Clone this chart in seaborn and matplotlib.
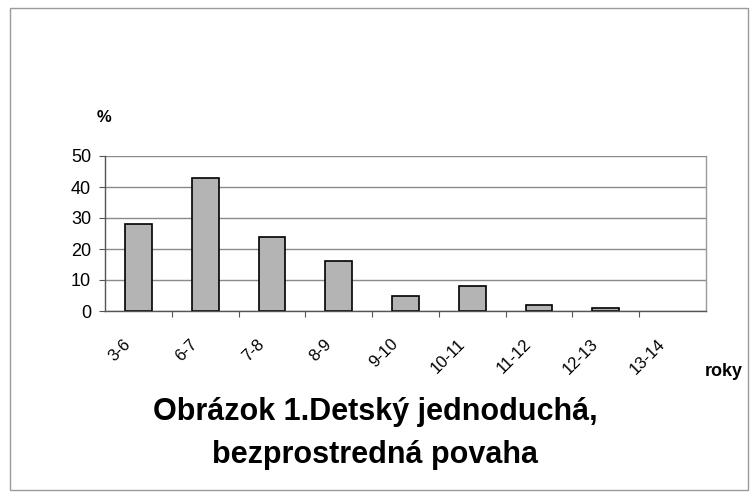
import matplotlib
matplotlib.use("Agg")
import matplotlib.pyplot as plt
import matplotlib.transforms as mtransforms
import seaborn as sns
import pandas as pd
from matplotlib.patches import Rectangle

# age groups (years) and share of children (%)
age_groups = ["3-6", "6-7", "7-8", "8-9", "9-10", "10-11", "11-12", "12-13", "13-14"]
percent = [28, 43, 24, 16, 5, 8, 2, 1, 0]
y_ticks = [0, 10, 20, 30, 40, 50]

df = pd.DataFrame({"vek": age_groups, "pct": percent})

sns.set_theme(style="white")
plt.rcParams["font.family"] = ["Liberation Sans", "DejaVu Sans"]
plt.rcParams["text.color"] = "black"
plt.rcParams["xtick.color"] = "black"
plt.rcParams["ytick.color"] = "black"

fig = plt.figure(figsize=(7.51, 4.95), dpi=100)
ax = fig.add_axes([105 / 751, 1 - 311 / 495, (706 - 105) / 751, 155 / 495])

sns.barplot(data=df, x="vek", y="pct", ax=ax, color="#b4b4b4",
            edgecolor="black", linewidth=1.2, width=0.4, saturation=1)

# empty category: no visible bar outline
for p in ax.patches:
    if p.get_height() == 0:
        p.set_edgecolor("none")

ax.set_ylim(0, 50)
ax.set_xlim(-0.5, len(age_groups) - 0.5)
ax.set_yticks(y_ticks)
ax.set_yticklabels([str(v) for v in y_ticks], fontsize=13)
ax.yaxis.grid(True, color="#8a8a8a", linewidth=1)
ax.set_axisbelow(True)

# ticks between categories, labels at centres
ax.set_xticks(range(len(age_groups)))
ax.set_xticklabels(age_groups, rotation=45, ha="right", va="center",
                   rotation_mode="anchor", fontsize=12)
ax.tick_params(axis="x", length=0, pad=22)
shift = mtransforms.ScaledTranslation(-10 / 100, 0, fig.dpi_scale_trans)
for lbl in ax.get_xticklabels():
    lbl.set_transform(lbl.get_transform() + shift)
ax.set_xticks([i + 0.5 for i in range(len(age_groups) - 1)], minor=True)
ax.tick_params(axis="x", which="minor", length=4, color="#555555", width=0.8, direction="out", bottom=True)
ax.tick_params(axis="y", length=4, color="#555555", width=0.8, left=True, pad=6)

for side in ["left", "bottom"]:
    ax.spines[side].set_color("#555555")
    ax.spines[side].set_linewidth(1)
ax.spines["right"].set_color("#9a9a9a")
ax.spines["right"].set_linewidth(1)
ax.spines["top"].set_visible(False)

ax.set_xlabel("")
ax.set_ylabel("")

fig.text(97 / 751, 1 - 118 / 495, "%", fontsize=12, fontweight="bold", ha="left", va="center")
fig.text(724 / 751, 1 - 372 / 495, "roky", fontsize=13, fontweight="bold", ha="center", va="center")
fig.text(375 / 751, 1 - 412 / 495, "Obrázok 1.Detský jednoduchá,", fontsize=22,
         fontweight="bold", ha="center", va="center")
fig.text(375 / 751, 1 - 455 / 495, "bezprostredná povaha", fontsize=22,
         fontweight="bold", ha="center", va="center")

# outer frame of the figure
fig.patches.append(Rectangle((10 / 751, 5 / 495), 738 / 751, 482 / 495,
                             transform=fig.transFigure, fill=False,
                             edgecolor="#9a9a9a", linewidth=1))

fig.savefig("out.png", dpi=100)
